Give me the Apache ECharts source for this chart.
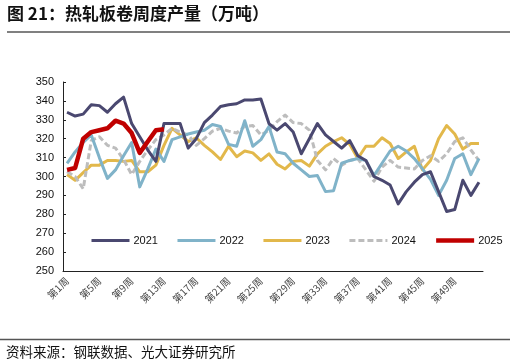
<!DOCTYPE html>
<html><head><meta charset="utf-8">
<script src="https://cdn.jsdelivr.net/npm/echarts@6/dist/echarts.min.js"></script>
<style>html,body{margin:0;padding:0;background:#fff}#c{width:516px;height:364px}</style>
</head><body><div id="c"></div>
<script>
// categories: week labels
const weeks = [];
for (let w = 1; w <= 52; w++) weeks.push('第' + w + '周');

const s2021 = [334,332,333,338,337.5,334,338.5,342,328,321,314,308,328,328,328,315,320,328.5,332.5,337,338,338.5,340.5,340.5,341,328,324.5,328,323.5,312,320,328,322,318.5,315,319,311,308.5,300,298,295.5,285.5,292,297,301,302.5,292,281.5,282.5,298,290,297];
const s2022 = [307,313,318,322,310,299,303.5,311,318,294.5,304,314.5,308,319.5,321,322.5,323.5,324.5,327.5,326.5,317,316,329.5,316,319.5,326.5,313,312,307,303.5,300,300.5,292,292.5,307,308.5,309.5,308.5,300.5,307,313.5,316,313.5,309.5,304,298.5,290,298,309.5,312,301,309.5];
const s2023 = [301,298,302,306,306,308.5,308.5,308,308.5,302.5,302.5,306,316.5,325.5,322,318.5,320.5,316.5,313,309,316,310.5,313.5,312.5,308.5,312,306.5,304,308,308.5,305.5,312,316,318.5,320.5,317,309.5,316,316,320.5,317.5,309.5,313,316,303.5,308.5,320,327,322.5,314.5,317.5,317.5];
const s2024 = [302.5,300,293.5,319,321,316.5,315,309,301,308,314,319.5,322,325.5,323.5,322,316.5,320,324,325.5,324,323,326.5,327,322,324.5,329,332.5,328.5,328,324.5,308.5,303.5,309.5,306,308.5,309.5,303.5,297.5,305,308.5,305,304.5,304,308.5,311,308,312,318.5,320.5,314,308.5];
const s2025 = [303.5,304.5,320,323.5,324.5,325.5,329.5,328,323,312.5,318.5,324.5,325];

const seriesNames = ['2021','2022','2023','2024','2025'];
const yMin = 250, yMax = 350, yStep = 10;
const titleText = '图 21：热轧板卷周度产量（万吨）';
const sourceText = '资料来源：钢联数据、光大证券研究所';

const colors = ['#4a4870','#80b3c9','#e2b84b','#bdbdbd','#c00000'];
const widths = [3,3,3,3,4.5];
const dataArr = [s2021,s2022,s2023,s2024,s2025];

const chart = echarts.init(document.getElementById('c'), null, {renderer:'canvas'});
chart.setOption({
  animation:false,
  backgroundColor:'#fff',
  graphic:[
    {type:'text', left:7, top:5, style:{text:titleText, font:'bold 17px "Noto Sans CJK SC"', fill:'#111'}},
    {type:'line', shape:{x1:7,y1:32,x2:510,y2:32}, style:{stroke:'#808080', lineWidth:2}},
    {type:'line', shape:{x1:0,y1:339.5,x2:510,y2:339.5}, style:{stroke:'#555', lineWidth:1.5}},
    {type:'text', left:6, top:345, style:{text:sourceText, font:'13.5px "Noto Sans CJK SC"', fill:'#111'}}
  ],
  legend:{
    left:85, top:230, itemWidth:38, itemHeight:12, itemGap:18,
    itemStyle:{opacity:0},
    textStyle:{fontSize:11, color:'#111', fontFamily:'Liberation Sans', padding:[0,0,0,-1]},
    data:seriesNames.map((n,k)=>({name:n, lineStyle:{width:widths[k], type: k===3 ? [6,3] : 'solid', cap:'butt'}}))
  },
  grid:{left:63, right:33, top:82, bottom:93},
  xAxis:{
    type:'category', data:weeks, boundaryGap:true,
    axisLine:{lineStyle:{color:'#222', width:1}},
    axisTick:{inside:true, length:4, interval:3, lineStyle:{color:'#222'}},
    axisLabel:{rotate:45, interval:3, fontSize:10, color:'#444', margin:8, fontFamily:'Noto Sans CJK SC'}
  },
  yAxis:{
    type:'value', min:yMin, max:yMax, interval:yStep,
    splitLine:{show:false},
    axisLine:{show:true, lineStyle:{color:'#222', width:1}},
    axisTick:{show:true, inside:true, length:3, lineStyle:{color:'#222'}},
    axisLabel:{fontSize:11, color:'#111', margin:9, fontFamily:'Liberation Sans'}
  },
  series: seriesNames.map((n,k)=>({
    name:n, type:'line', data:dataArr[k], symbol:'none', smooth:false,
    z: k===4 ? 10 : (k===3 ? 3 : 5-k),
    lineStyle:{color:colors[k], width:widths[k], type: k===3 ? [6,3] : 'solid', cap:'butt', join:'round'},
    itemStyle:{color:colors[k]}
  }))
});
</script>
</body></html>
